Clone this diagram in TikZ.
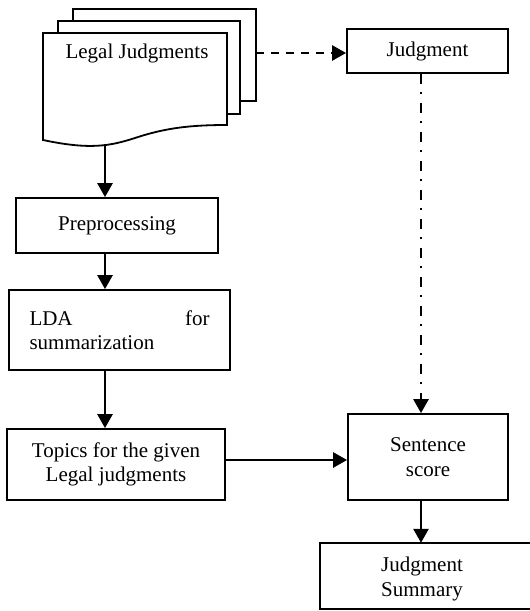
\documentclass[tikz,border=0pt]{standalone}
\usepackage{fontspec}
\setmainfont{Liberation Serif}
\usetikzlibrary{arrows.meta}
\begin{document}
\begin{tikzpicture}[x=1pt,y=-1pt,
  every node/.style={font=\fontsize{21}{24.5}\selectfont},
  boxnode/.style={draw,line width=1.8pt,inner sep=0pt,align=center},
  page/.style={draw,line width=1.8pt,fill=white},
  arr/.style={line width=2.6pt,-{Triangle[length=14pt,width=15pt]}},
  dasharr/.style={arr,dash pattern=on 8.3pt off 6.7pt},
  dotarr/.style={arr,dash pattern=on 10pt off 8.5pt on 2pt off 8.5pt}]
\useasboundingbox (0,0) rectangle (530,611);
% document stack
\draw[page] (73,9) rectangle (256,101);
\draw[page] (58,21) rectangle (240,114);
\draw[page] (43,140) -- (43,33) -- (227,33) -- (227,125)
  .. controls (190,125) and (165,128) .. (135,138)
  .. controls (110,146) and (90,150) .. (43,140) -- cycle;
\node (docs) at (137,53) {Legal Judgments};
\coordinate (docb) at (105,146);
\coordinate (docr) at (256,53);
% boxes
\node[boxnode,minimum width=202pt,minimum height=55pt] (prep) at (117,225.5) {Preprocessing};
\node[boxnode,minimum width=221pt,minimum height=80pt] (lda) at (119.5,330)
  {\parbox{180pt}{LDA\hfill for\\summarization}};
\node[boxnode,minimum width=218pt,minimum height=71pt] (topics) at (116,464.5)
  {Topics for the given\\Legal judgments};
\node[boxnode,minimum width=161pt,minimum height=44pt] (judg) at (427.5,51) {Judgment};
\node[boxnode,minimum width=160pt,minimum height=86pt] (sent) at (428,457)
  {Sentence\\score};
\node[inner sep=0pt,minimum width=209.5pt,minimum height=66pt] (summ) at (424.75,576) {};
\draw[line width=1.8pt] (summ.north east) -- (summ.north west) -- (summ.south west) -- (summ.south east);
\node[align=center] (summtext) at (422,579) {Judgment\\Summary};
\coordinate (vx) at (421,0);
% connectors
\draw[arr] (docb) -- (docb |- prep.north);
\draw[arr] (docb |- prep.south) -- (docb |- lda.north);
\draw[arr] (docb |- lda.south) -- (docb |- topics.north);
\draw[arr] (topics.east |- 0,460) -- (sent.west |- 0,460);
\draw[dasharr] (docr) -- (judg.west |- docr);
\draw[dotarr] (vx |- judg.south) -- (vx |- sent.north);
\draw[arr] (vx |- sent.south) -- (vx |- summ.north);
\end{tikzpicture}
\end{document}
